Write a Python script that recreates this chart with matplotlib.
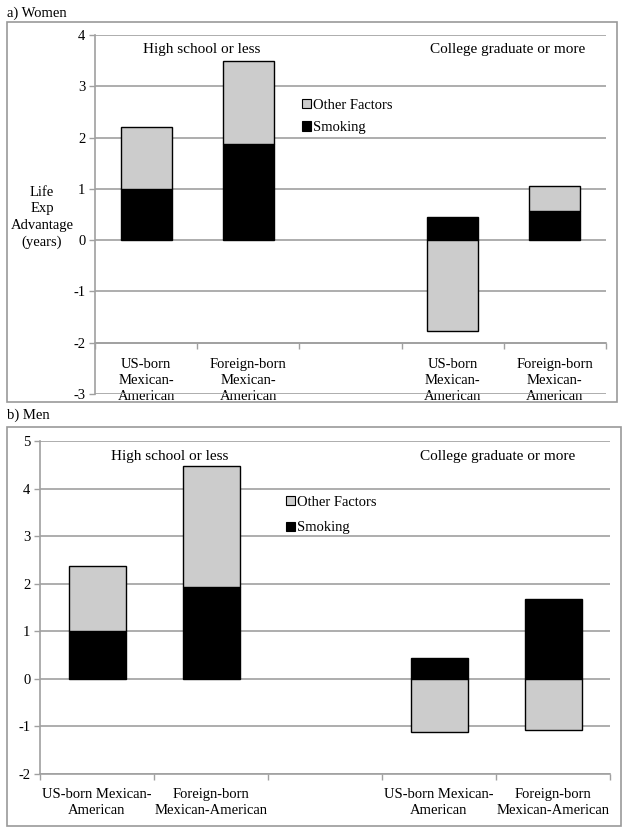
import numpy as np
import matplotlib
matplotlib.use("Agg")
import matplotlib.pyplot as plt
from matplotlib.patches import Rectangle, Patch

plt.rcParams['font.family'] = ['Liberation Serif', 'DejaVu Serif']

# ---- data ----
women_categories = ["US-born\nMexican-\nAmerican", "Foreign-born\nMexican-\nAmerican", "",
                    "US-born\nMexican-\nAmerican", "Foreign-born\nMexican-\nAmerican"]
men_categories = ["US-born Mexican-\nAmerican", "Foreign-born\nMexican-American", "",
                  "US-born Mexican-\nAmerican", "Foreign-born\nMexican-American"]
women_smoking = [1.00, 1.88, np.nan, 0.45, 0.565]
women_other = [1.21, 1.62, np.nan, -1.77, 0.50]
men_smoking = [1.00, 1.925, np.nan, 0.44, 1.67]
men_other = [1.38, 2.54, np.nan, -1.11, -1.085]
women_yticks = [-3, -2, -1, 0, 1, 2, 3, 4]
men_yticks = [-2, -1, 0, 1, 2, 3, 4, 5]
group_titles = ["High school or less", "College graduate or more"]
legend_labels = ["Other Factors", "Smoking"]

GRID = '#a0a0a0'
OTHER = '#cccccc'
FS = 10.5

fig = plt.figure(figsize=(6.29, 8.31), dpi=100)


def panel(rect, cats, smoking, other, yticks, axis_at, title_pos, leg_anchor, leg_spacing,
          label_pad):
    ax = fig.add_axes(rect)
    x = np.arange(len(cats))
    smoking = np.array(smoking, dtype=float)
    other = np.array(other, dtype=float)
    bottom_other = np.where(other >= 0, smoking, 0.0)
    ax.bar(x, smoking, width=0.5, color='black', edgecolor='black', linewidth=1.0, zorder=3)
    ax.bar(x, other, width=0.5, bottom=bottom_other, color=OTHER, edgecolor='black',
           linewidth=1.0, zorder=3)
    ax.set_xlim(-0.5, len(cats) - 0.5)
    ax.set_ylim(yticks[0], yticks[-1])
    ax.set_yticks(yticks)
    ax.set_yticklabels([str(t) for t in yticks], fontsize=FS)
    ax.yaxis.grid(True, color=GRID, linewidth=1.2, zorder=0)
    ax.set_axisbelow(True)
    for s in ['top', 'right']:
        ax.spines[s].set_visible(False)
    ax.spines['left'].set_color(GRID)
    ax.spines['left'].set_linewidth(1.2)
    ax.spines['bottom'].set_position(('data', axis_at))
    ax.spines['bottom'].set_color(GRID)
    ax.spines['bottom'].set_linewidth(1.2)
    ax.tick_params(axis='y', length=4, color=GRID, width=1.0, pad=3)
    ax.set_xticks(x)
    ax.set_xticklabels(cats, fontsize=FS, linespacing=1.3)
    ax.tick_params(axis='x', which='major', length=0, pad=label_pad)
    ax.set_xticks(np.arange(-0.5, len(cats)), minor=True)
    ax.tick_params(axis='x', which='minor', length=4, color=GRID, width=1.0, direction='out')
    ax.text(title_pos[0][0], title_pos[0][1], group_titles[0], fontsize=FS + 0.5,
            ha='center', va='center', transform=ax.transAxes)
    ax.text(title_pos[1][0], title_pos[1][1], group_titles[1], fontsize=FS + 0.5,
            ha='center', va='center', transform=ax.transAxes)
    handles = [Patch(facecolor=OTHER, edgecolor='black', linewidth=0.8),
               Patch(facecolor='black', edgecolor='black', linewidth=0.8)]
    ax.legend(handles, legend_labels, loc='upper left', bbox_to_anchor=leg_anchor,
              frameon=False, fontsize=FS, handlelength=0.6, handleheight=0.6,
              handletextpad=0.15, labelspacing=leg_spacing, borderpad=0, borderaxespad=0)
    return ax


# Women
axw = panel([95 / 629, 1 - 394 / 831, 511 / 629, 359 / 831], women_categories,
            women_smoking, women_other, women_yticks, -2,
            [((202 - 95) / 511, (394 - 50) / 359), ((508 - 95) / 511, (394 - 50) / 359)],
            ((302 - 95) / 511, (394 - 99) / 359), 0.62, 11)
fig.text(42 / 629, 1 - 217.5 / 831, "Life\nExp\nAdvantage\n(years)", fontsize=FS,
         ha='center', va='center', linespacing=1.35)

# Men
axm = panel([40 / 629, 1 - 774 / 831, 570 / 629, 333 / 831], men_categories,
            men_smoking, men_other, men_yticks, -2,
            [((170 - 40) / 570, (774 - 456) / 333), ((498 - 40) / 570, (774 - 456) / 333)],
            ((286 - 40) / 570, (774 - 496) / 333), 0.85, 10)

# panel boxes
fig.patches.append(Rectangle((7 / 629, 1 - 402 / 831), 610 / 629, 380 / 831,
                             transform=fig.transFigure, fill=False, edgecolor='#999999',
                             linewidth=1.2))
fig.patches.append(Rectangle((7 / 629, 1 - 826 / 831), 614 / 629, 399 / 831,
                             transform=fig.transFigure, fill=False, edgecolor='#999999',
                             linewidth=1.2))
fig.text(7 / 629, 1 - 13 / 831, "a) Women", fontsize=FS, ha='left', va='center')
fig.text(7 / 629, 1 - 415 / 831, "b) Men", fontsize=FS, ha='left', va='center')

fig.savefig("out.png", dpi=100)
